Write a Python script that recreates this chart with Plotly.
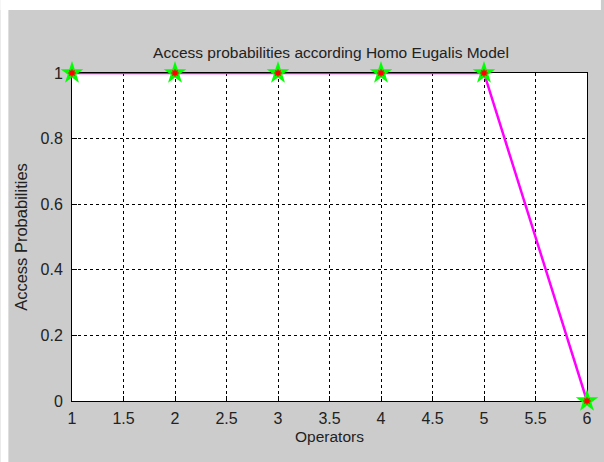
import plotly.graph_objects as go

operators = [1, 2, 3, 4, 5, 6]
access_prob = [1, 1, 1, 1, 1, 0]

x_ticks = [1, 1.5, 2, 2.5, 3, 3.5, 4, 4.5, 5, 5.5, 6]
x_tick_text = ["1", "1.5", "2", "2.5", "3", "3.5", "4", "4.5", "5", "5.5", "6"]
y_ticks = [0, 0.2, 0.4, 0.6, 0.8, 1]
y_tick_text = ["0", "0.2", "0.4", "0.6", "0.8", "1"]

W, H = 604, 462
L, R, T, B = 72, 14, 73, 61
pw, ph = W - L - R, H - T - B

family = "Liberation Sans, Arial, sans-serif"
tick_font = dict(family=family, size=16, color="#222222")
xlabel_font = dict(family=family, size=15.5, color="#222222")
ylabel_font = dict(family=family, size=16.5, color="#222222")
title_font = dict(family=family, size=15.5, color="#222222")

fig = go.Figure()
fig.add_trace(go.Scatter(
    x=operators, y=access_prob, mode="lines+markers",
    line=dict(color="#ff00ff", width=2.5),
    marker=dict(symbol="star", size=17, color="#00ff00", line=dict(width=0)),
    cliponaxis=False, showlegend=False,
))
fig.add_trace(go.Scatter(
    x=operators, y=access_prob, mode="markers",
    marker=dict(symbol="asterisk-open", size=6, color="#ff0000",
                line=dict(color="#ff0000", width=1.5)),
    cliponaxis=False, showlegend=False,
))

axis_common = dict(
    showline=True, linecolor="black", linewidth=1, mirror=True,
    ticks="inside", ticklen=5, tickcolor="black",
    showgrid=True, gridcolor="black", gridwidth=1, griddash="3px,3px",
    zeroline=False, tickfont=tick_font, layer="below traces",
)

fig.update_layout(
    width=W, height=H,
    margin=dict(l=L, r=R, t=T, b=B, pad=0),
    paper_bgcolor="#cccccc", plot_bgcolor="white",
    title=dict(text="Access probabilities according Homo Eugalis Model",
               x=(L + pw / 2) / W, y=1 - 53 / H, xanchor="center", yanchor="middle",
               font=title_font),
    xaxis=dict(range=[1, 6], tickvals=x_ticks, ticktext=x_tick_text,
               ticklabelstandoff=3,
               title=dict(text="Operators", font=xlabel_font, standoff=4), **axis_common),
    yaxis=dict(range=[0, 1], tickvals=y_ticks, ticktext=y_tick_text,
               ticklabelstandoff=5,
               title=dict(text="Access Probabilities", font=ylabel_font, standoff=8),
               **axis_common),
    shapes=[
        dict(type="rect", xref="paper", yref="paper", layer="above",
             x0=-L / pw, x1=(8 - L) / pw, y0=-B / ph, y1=(ph + T) / ph,
             fillcolor="white", line=dict(width=0)),
        dict(type="rect", xref="paper", yref="paper", layer="above",
             x0=-L / pw, x1=(pw + R) / pw, y0=(ph + T - 10) / ph, y1=(ph + T) / ph,
             fillcolor="white", line=dict(width=0)),
    ],
)

fig.write_html("out.html")
